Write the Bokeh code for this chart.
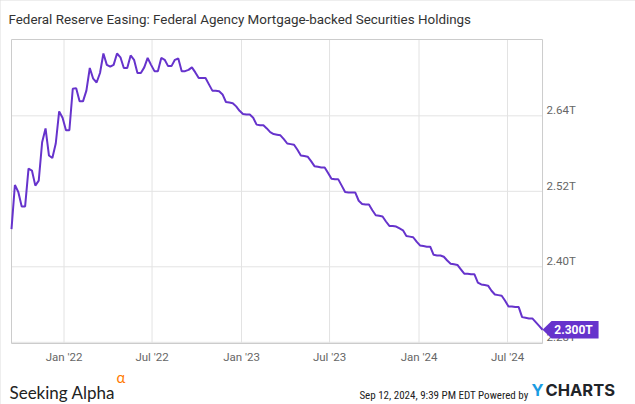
import pandas as pd
from bokeh.plotting import figure
from bokeh.models import Range1d, ColumnDataSource
from bokeh.core.properties import value
from bokeh.embed import file_html
from bokeh.resources import INLINE

# ---------------- data ----------------
start_date = "2021-09-15"          # weekly (Wednesday) observations
mbs_holdings_t = [
    2.460, 2.530, 2.519, 2.496, 2.496, 2.556, 2.553, 2.529, 2.537, 2.598,
    2.620, 2.577, 2.573, 2.596, 2.647, 2.637, 2.617, 2.617, 2.683, 2.684,
    2.663, 2.663, 2.680, 2.716, 2.699, 2.693, 2.708, 2.739, 2.721, 2.718,
    2.721, 2.739, 2.733, 2.716, 2.716, 2.736, 2.729, 2.708, 2.708, 2.717,
    2.732, 2.721, 2.711, 2.711, 2.732, 2.729, 2.719, 2.719, 2.729, 2.731,
    2.711, 2.711, 2.713, 2.717, 2.709, 2.700, 2.700, 2.700, 2.690, 2.680,
    2.680, 2.679, 2.674, 2.662, 2.661, 2.660, 2.655, 2.648, 2.643, 2.642,
    2.642, 2.637, 2.626, 2.625, 2.625, 2.620, 2.614, 2.611, 2.610, 2.609,
    2.603, 2.596, 2.595, 2.594, 2.586, 2.577, 2.576, 2.575, 2.568, 2.560,
    2.559, 2.558, 2.558, 2.549, 2.540, 2.539, 2.539, 2.529, 2.519, 2.518,
    2.518, 2.518, 2.505, 2.500, 2.499, 2.499, 2.490, 2.482, 2.481, 2.480,
    2.472, 2.465, 2.465, 2.464, 2.461, 2.458, 2.449, 2.448, 2.447, 2.440,
    2.434, 2.433, 2.432, 2.432, 2.419, 2.418, 2.418, 2.416, 2.410, 2.405,
    2.404, 2.403, 2.396, 2.389, 2.389, 2.388, 2.388, 2.375, 2.372, 2.371,
    2.370, 2.362, 2.356, 2.355, 2.354, 2.346, 2.337, 2.337, 2.336, 2.336,
    2.320, 2.319, 2.318, 2.318, 2.312, 2.306, 2.300,
]
x_tick_dates = ["2022-01-01", "2022-07-01", "2023-01-01",
                "2023-07-01", "2024-01-01", "2024-07-01"]
x_tick_labels = ["Jan '22", "Jul '22", "Jan '23", "Jul '23", "Jan '24", "Jul '24"]
y_ticks = [2.28, 2.40, 2.52, 2.64]
y_tick_labels = ["2.28T", "2.40T", "2.52T", "2.64T"]
title_text = "Federal Reserve Easing: Federal Agency Mortgage-backed Securities Holdings"
footer_date = "Sep 12, 2024, 9:39 PM EDT Powered by"

dates = pd.date_range(start_date, periods=len(mbs_holdings_t), freq="7D")


def ms(ts):
    return pd.Timestamp(ts).value / 1e6


# ---------------- layout (pixel geometry of the plot area) ----------------
W, H = 635, 404
FL, FT, FB = 11, 39, 343          # plot-area left / top / bottom pixels
PX_PER_DAY = 0.4863
DAY = 86400000.0
Y_TOP, Y_BOT = 2.7613, 2.2781      # values at plot-area top / bottom
x_start = ms(dates[0])
x_last = ms(dates[-1])
v_last = mbs_holdings_t[-1]
T_PER_PX = (Y_TOP - Y_BOT) / (FB - FT)


def xd(px):
    return x_start + (px - FL) / PX_PER_DAY * DAY


def yd(py):
    return Y_TOP - (py - FT) * T_PER_PX


def ddx(px):
    return px / PX_PER_DAY * DAY


def ddy(px):
    return px * T_PER_PX


# the frame covers the whole canvas; the chart area is drawn inside it
p = figure(width=W, height=H, x_axis_type="datetime",
           x_axis_location=None, y_axis_location=None,
           x_range=Range1d(xd(0), xd(W)), y_range=Range1d(yd(H), yd(0)),
           output_backend="svg", toolbar_location=None,
           min_border=0, min_border_left=0, min_border_right=0,
           min_border_top=0, min_border_bottom=0,
           background_fill_color="white", border_fill_color="white")
p.outline_line_color = None
p.xgrid.visible = False
p.ygrid.visible = False
p.styles = {"outline": "1px solid #dcdcdc", "outline-offset": "-1px"}

GRID = "#e3e3e3"
tick_ms = [ms(d) for d in x_tick_dates]

# vertical grid lines
p.segment(x0=tick_ms, x1=tick_ms, y0=[Y_BOT] * len(tick_ms), y1=[Y_TOP] * len(tick_ms),
          line_color=GRID, line_width=1)
# horizontal grid lines
p.segment(x0=[x_start] * len(y_ticks), x1=[x_last] * len(y_ticks),
          y0=y_ticks, y1=y_ticks, line_color=GRID, line_width=1)

# plot-area border
p.quad(left=[x_start], right=[x_last], bottom=[Y_BOT], top=[Y_TOP],
       fill_color=None, line_color="#cccccc", line_width=1)

src = ColumnDataSource(dict(date=dates, v=mbs_holdings_t))
p.line("date", "v", source=src, line_color="#6633cc", line_width=2)

# x tick labels
p.text(x=tick_ms, y=[Y_BOT] * len(tick_ms), text=x_tick_labels, y_offset=13,
       text_font=value("Roboto"), text_font_size="11.5px", text_color="#666666",
       text_align="center", text_baseline="middle")

# right-hand value labels
p.text(x=[x_last] * len(y_ticks), y=y_ticks, text=y_tick_labels,
       x_offset=4, y_offset=-5.5, text_font=value("Roboto"),
       text_font_size="11.5px", text_color="#666666",
       text_baseline="middle", text_align="left")

# last value call-out
cx = [x_last, x_last + ddx(9), x_last + ddx(56), x_last + ddx(56), x_last + ddx(9)]
cy = [v_last, v_last + ddy(8.8), v_last + ddy(8.8), v_last - ddy(8.8), v_last - ddy(8.8)]
p.patch(cx, cy, fill_color="#6633cc", line_color=None)
p.text(x=[x_last + ddx(31)], y=[v_last], text=[f"{v_last:.3f}T"],
       text_font=value("Roboto"), text_font_size="12px", text_font_style="bold",
       text_color="white", text_align="center", text_baseline="middle")

# title
p.text(x=[xd(8)], y=[yd(19)], text=[title_text], text_font=value("Roboto"),
       text_font_size="13.4px", text_color="#333333",
       text_baseline="middle", text_align="left")

# footer
p.text(x=[xd(9)], y=[yd(392)], text=["Seeking Alpha"], text_font=value("Lato"),
       text_font_size="17px", text_color="#222222",
       text_baseline="alphabetic", text_align="left")
p.text(x=[xd(116)], y=[yd(376)], text=["α"], text_font=value("Lato"),
       text_font_size="15px", text_color="#ff7a00",
       text_baseline="alphabetic", text_align="left")
p.text(x=[xd(528)], y=[yd(395)], text=[footer_date],
       text_font=value("Roboto Condensed"), text_font_size="11px",
       text_color="#222222", text_baseline="alphabetic", text_align="right")
p.text(x=[xd(531)], y=[yd(389)], text=["Y"], text_font=value("Inter"),
       text_font_size="16.5px", text_font_style="bold",
       text_color="#1b9ce2", text_baseline="middle", text_align="left")
p.text(x=[xd(545)], y=[yd(389)], text=["CHARTS"], text_font=value("Inter"),
       text_font_size="16.5px", text_font_style="bold",
       text_color="#1f2429", text_baseline="middle", text_align="left")

open("out.html", "w").write(file_html(p, INLINE))
